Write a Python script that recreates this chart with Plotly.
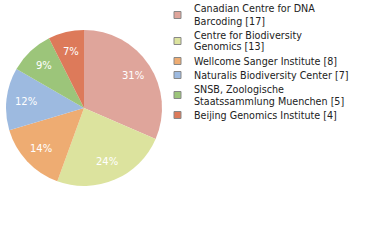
import math
import plotly.graph_objects as go

labels = ["Canadian Centre for DNA Barcoding", "Centre for Biodiversity Genomics",
          "Wellcome Sanger Institute", "Naturalis Biodiversity Center",
          "SNSB, Zoologische Staatssammlung Muenchen", "Beijing Genomics Institute"]
legend_lines = [["Canadian Centre for DNA", "Barcoding [17]"],
                ["Centre for Biodiversity", "Genomics [13]"],
                ["Wellcome Sanger Institute [8]"],
                ["Naturalis Biodiversity Center [7]"],
                ["SNSB, Zoologische", "Staatssammlung Muenchen [5]"],
                ["Beijing Genomics Institute [4]"]]
values = [17, 13, 8, 7, 5, 4]
colors = ["#dfa59b", "#dce39e", "#eeac72", "#9dbae0", "#9cc57a", "#dd7a5a"]

W, H = 380, 240
total = sum(values)
pct = [f"{math.floor(v / total * 100)}%" for v in values]

# pie placement (pixels)
cx, cy, r = 84, 108, 78

fig = go.Figure(go.Pie(
    labels=labels, values=values, sort=False, direction="clockwise", rotation=0,
    marker=dict(colors=colors, line=dict(width=0)),
    textinfo="none",
    domain=dict(x=[(cx - r) / W, (cx + r) / W], y=[1 - (cy + r) / H, 1 - (cy - r) / H]),
    showlegend=False, hoverinfo="label+value",
))

shapes, annots = [], []
# percentage labels at slice mid-angles
cum = 0
for v, p in zip(values, pct):
    mid = (cum + v / 2) / total * 2 * math.pi
    cum += v
    px = cx + 0.75 * r * math.sin(mid)
    py = cy - 0.75 * r * math.cos(mid)
    annots.append(dict(x=px / W, y=1 - py / H, xref="paper", yref="paper", text=p,
                       showarrow=False, xanchor="center", yanchor="middle",
                       font=dict(size=10, family="DejaVu Sans", color="white")))

y = 9
for i, lines in enumerate(legend_lines):
    n = len(lines)
    ycenter = y + (n - 1) * 12 / 2
    shapes.append(dict(type="rect", xref="paper", yref="paper",
                       x0=174 / W, x1=181 / W, y0=1 - (ycenter + 3.5) / H, y1=1 - (ycenter - 3.5) / H,
                       fillcolor=colors[i], line=dict(color="#888888", width=1)))
    for j, t in enumerate(lines):
        annots.append(dict(x=192 / W, y=1 - (y + j * 12) / H, xref="paper", yref="paper",
                           text=t, showarrow=False, xanchor="left", yanchor="middle",
                           font=dict(size=9.6, family="DejaVu Sans", color="#222222")))
    y += (n - 1) * 12 + 14

fig.update_layout(width=W, height=H, margin=dict(l=0, r=0, t=0, b=0),
                  paper_bgcolor="white", plot_bgcolor="white",
                  shapes=shapes, annotations=annots)
fig.write_html("out.html")
